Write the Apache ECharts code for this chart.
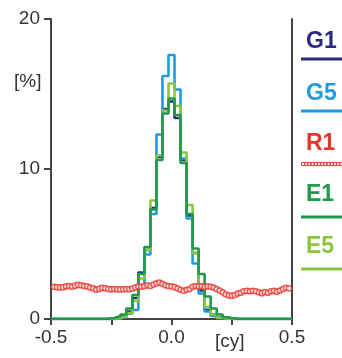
<!DOCTYPE html>
<html>
<head>
<meta charset="utf-8">
<script src="https://cdn.jsdelivr.net/npm/echarts@6/dist/echarts.min.js"></script>
<style>
  html, body { margin: 0; padding: 0; background: #fff; }
  #chart { width: 342px; height: 358px; }
</style>
</head>
<body>
<div id="chart"></div>
<script>
// Histogram bins: centres every 0.025 cy from -0.5 to 0.5 (41 bins)
const BIN_START = -0.5;
const BIN_WIDTH = 0.025;

// Percentage of samples per bin
const g1Values = [0,0,0,0,0,0,0,0,0,0, 0,0.05,0.2,0.5,1.4,3.1,4.6,7.4,10.8,14.0, 14.5,13.4,10.6,6.9,4.4,1.9,0.6,0.3,0.12,0.05, 0,0,0,0,0,0,0,0,0,0,0];
const g5Values = [0,0,0,0,0,0,0,0,0,0, 0,0.03,0.1,0.35,0.6,2.2,4.3,7.0,12.3,16.2, 17.6,15.3,10.7,6.7,3.7,1.7,0.5,0.2,0.05,0, 0,0,0,0,0,0,0,0,0,0,0];
const e1Values = [0,0,0,0,0,0,0,0,0,0, 0.05,0.15,0.3,0.7,1.6,3.0,4.8,7.3,10.6,13.7, 14.7,13.6,10.4,7.0,4.7,3.0,1.5,0.7,0.3,0.12, 0.05,0,0,0,0,0,0,0,0,0,0];
const e5Values = [0,0,0,0,0,0,0,0,0,0, 0,0.05,0.15,0.4,1.2,2.7,4.6,7.9,10.9,13.9, 15.7,14.2,11.1,7.6,4.4,2.2,0.8,0.3,0.1,0.03, 0,0,0,0,0,0,0,0,0,0,0];

// R1: sampled every 0.0125 cy from -0.4875 to 0.4875
const R1_START = -0.4875;
const R1_STEP = 0.0125;
const r1Values = [
  2.15,2.12,2.10,2.12,2.18,2.20,2.15,2.22,2.28,2.25,
  2.20,2.18,2.10,2.05,1.95,2.02,2.08,2.05,2.00,1.98,
  2.00,1.98,1.97,1.98,2.00,1.98,2.02,2.10,2.18,2.15,
  2.20,2.25,2.20,2.30,2.38,2.42,2.35,2.25,2.20,2.18,
  2.12,2.05,1.95,1.88,1.95,2.00,2.15,2.20,2.18,2.20,
  2.15,2.18,2.15,2.10,2.00,1.90,1.78,1.65,1.58,1.55,
  1.60,1.70,1.75,1.85,1.88,1.85,1.88,1.85,1.78,1.72,
  1.80,1.75,1.85,1.88,1.82,1.90,2.00,2.08,2.05
];

// Axis ticks
const xTicks = [-0.5, -0.25, 0, 0.25, 0.5];
const xTickLabels = ['-0.5', '', '0.0', '', '0.5'];
const yTicks = [0, 10, 20];

const colors = { G1: '#2c2a80', G5: '#1d9be0', R1: '#e8342c', E1: '#1e9a4b', E5: '#8cc63e' };

const FONT = '"Liberation Sans", Arial, sans-serif';

function binPairs(values) {
  return values.map((v, i) => [+(BIN_START + i * BIN_WIDTH).toFixed(4), v]);
}
function stepSeries(name, values) {
  return {
    name: name,
    type: 'line',
    step: 'middle',
    data: binPairs(values),
    showSymbol: false,
    lineStyle: { color: colors[name], width: 2.6 },
    itemStyle: { color: colors[name] },
    z: 2
  };
}

const r1Data = r1Values.map((v, i) => [+(R1_START + i * R1_STEP).toFixed(4), v]);

// Legend block at the right: label with its line sample underneath
const legendRows = [
  { name: 'G1', textY: 42, lineY: 59 },
  { name: 'G5', textY: 94, lineY: 111 },
  { name: 'R1', textY: 144, lineY: 164 },
  { name: 'E1', textY: 195, lineY: 217 },
  { name: 'E5', textY: 247, lineY: 269 }
];
const graphics = [];
legendRows.forEach(row => {
  graphics.push({
    type: 'text', left: 306, top: row.textY - 12,
    style: { text: row.name, fill: colors[row.name], font: 'bold 23px ' + FONT }
  });
  if (row.name === 'R1') {
    for (let k = 0; k < 13; k++) {
      graphics.push({
        type: 'circle', shape: { cx: 303 + k * 3.2, cy: row.lineY, r: 1.7 },
        style: { fill: '#fff', stroke: colors.R1, lineWidth: 1.1 }
      });
    }
  } else {
    graphics.push({
      type: 'line', shape: { x1: 301, y1: row.lineY, x2: 342, y2: row.lineY },
      style: { stroke: colors[row.name], lineWidth: 3 }
    });
  }
});
graphics.push({
  type: 'text', left: 14, top: 72,
  style: { text: '[%]', fill: '#333', font: '19px ' + FONT }
});
graphics.push({
  type: 'text', left: 215, top: 332,
  style: { text: '[cy]', fill: '#333', font: '19px ' + FONT }
});

const axisLine = { show: true, onZero: false, lineStyle: { color: '#444', width: 2 } };

const option = {
  animation: false,
  backgroundColor: '#fff',
  grid: { left: 51, right: 50, top: 19, bottom: 39, containLabel: false },
  xAxis: {
    type: 'value',
    min: xTicks[0], max: xTicks[xTicks.length - 1], interval: 0.25,
    axisLine: axisLine,
    axisTick: { show: true, length: 6, lineStyle: { color: '#444', width: 2 } },
    splitLine: { show: false },
    axisLabel: {
      margin: 9, color: '#333', fontSize: 19, fontFamily: FONT,
      formatter: v => { const i = xTicks.findIndex(t => Math.abs(t - v) < 1e-6); return i >= 0 ? xTickLabels[i] : ''; }
    }
  },
  yAxis: [{
    type: 'value',
    min: yTicks[0], max: yTicks[yTicks.length - 1], interval: 10,
    axisLine: axisLine,
    axisTick: { show: true, length: 7, lineStyle: { color: '#444', width: 2 } },
    splitLine: { show: false },
    axisLabel: { margin: 11, color: '#333', fontSize: 19, fontFamily: FONT }
  }, {
    type: 'value', position: 'right',
    min: yTicks[0], max: yTicks[yTicks.length - 1], interval: 10,
    axisLine: axisLine,
    axisTick: { show: false }, axisLabel: { show: false }, splitLine: { show: false }
  }],
  series: [
    stepSeries('G1', g1Values),
    stepSeries('G5', g5Values),
    stepSeries('E5', e5Values),
    stepSeries('E1', e1Values),
    {
      name: 'R1',
      type: 'scatter',
      data: r1Data,
      symbol: 'circle',
      symbolSize: 5.2,
      itemStyle: { color: '#fff', borderColor: colors.R1, borderWidth: 1.5 },
      z: 3
    }
  ],
  graphic: graphics
};

echarts.init(document.getElementById('chart'), null, { renderer: 'canvas' }).setOption(option);
</script>
</body>
</html>
